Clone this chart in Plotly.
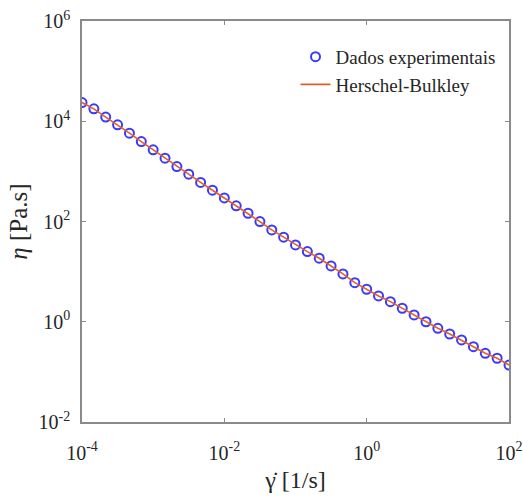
import plotly.graph_objects as go

# shear rate [1/s], 6 points per decade from 1e-4 to 1e2
shear_rate = [1.0e-4, 1.468e-4, 2.154e-4, 3.162e-4, 4.642e-4, 6.813e-4,
              1.0e-3, 1.468e-3, 2.154e-3, 3.162e-3, 4.642e-3, 6.813e-3,
              1.0e-2, 1.468e-2, 2.154e-2, 3.162e-2, 4.642e-2, 6.813e-2,
              1.0e-1, 1.468e-1, 2.154e-1, 3.162e-1, 4.642e-1, 6.813e-1,
              1.0, 1.468, 2.154, 3.162, 4.642, 6.813,
              10.0, 14.68, 21.54, 31.62, 46.42, 68.13, 100.0]

# experimental viscosity [Pa.s]
eta_exp = [23600, 17700, 12100, 8470, 5780, 3940,
           2690, 1830, 1250, 879, 603, 421,
           296, 205, 146, 99.5, 67.9, 48.6,
           34.1, 25.1, 18.5, 13.0, 9.0, 6.03,
           4.45, 3.27, 2.52, 1.86, 1.37, 1.00,
           0.741, 0.570, 0.434, 0.318, 0.235, 0.187, 0.137]

# Herschel-Bulkley model curve [Pa.s]
eta_hb = [23600, 17700, 12100, 8470, 5780, 3940,
          2690, 1830, 1250, 879, 603, 421,
          296, 205, 146, 99.5, 67.9, 48.6,
          34.1, 25.1, 18.5, 13.0, 9.0, 6.03,
          4.45, 3.27, 2.52, 1.86, 1.37, 1.00,
          0.741, 0.570, 0.434, 0.318, 0.235, 0.187, 0.137]

x_tickvals = [1e-4, 1e-2, 1e0, 1e2]
x_ticktext = ["10<sup>-4</sup>", "10<sup>-2</sup>", "10<sup>0</sup>", "10<sup>2</sup>"]
y_tickvals = [1e-2, 1e0, 1e2, 1e4, 1e6]
y_ticktext = ["10<sup>-2</sup>", "10<sup>0</sup>", "10<sup>2</sup>", "10<sup>4</sup>", "10<sup>6</sup>"]

FONT = "Liberation Serif, Times New Roman, serif"
TXT = "#262626"
AX = "#8a8a8a"

fig = go.Figure()
fig.add_trace(go.Scatter(
    x=shear_rate, y=eta_exp, mode="markers", name="Dados experimentais",
    marker=dict(symbol="circle-open", size=9, color="#3a3aff", line=dict(width=2, color="#3a3aff")),
))
fig.add_trace(go.Scatter(
    x=shear_rate, y=eta_hb, mode="lines", name="Herschel-Bulkley",
    line=dict(color="#e0602a", width=1.6),
))

axis_common = dict(
    type="log", showgrid=False, zeroline=False, automargin=False,
    showline=True, linecolor=AX, linewidth=1.5, mirror="ticks",
    ticks="inside", ticklen=4, tickcolor=AX, tickwidth=1,
    tickfont=dict(family=FONT, size=20, color=TXT),
)

fig.update_layout(
    width=523, height=501,
    margin=dict(l=82, r=14, t=21, b=79, autoexpand=False),
    paper_bgcolor="white", plot_bgcolor="white",
    font=dict(family=FONT, color=TXT),
    showlegend=True,
    legend=dict(x=0.5, y=0.958, xanchor="left", yanchor="top",
                bgcolor="rgba(255,255,255,0)", borderwidth=0,
                font=dict(family=FONT, size=19, color=TXT),
                itemwidth=30, tracegroupgap=0),
)
fig.update_xaxes(range=[-4, 2], tickvals=x_tickvals, ticktext=x_ticktext,
                 ticklabelstandoff=12,
                 title=dict(text="γ̇ [1/s]", font=dict(family=FONT, size=24, color=TXT), standoff=8),
                 **axis_common)
fig.update_yaxes(range=[-2, 6], tickvals=y_tickvals, ticktext=y_ticktext,
                 ticklabelstandoff=6,
                 title=dict(text="<i>η</i> [Pa.s]", font=dict(family=FONT, size=25, color=TXT), standoff=4),
                 **axis_common)

fig.write_html("out.html")
